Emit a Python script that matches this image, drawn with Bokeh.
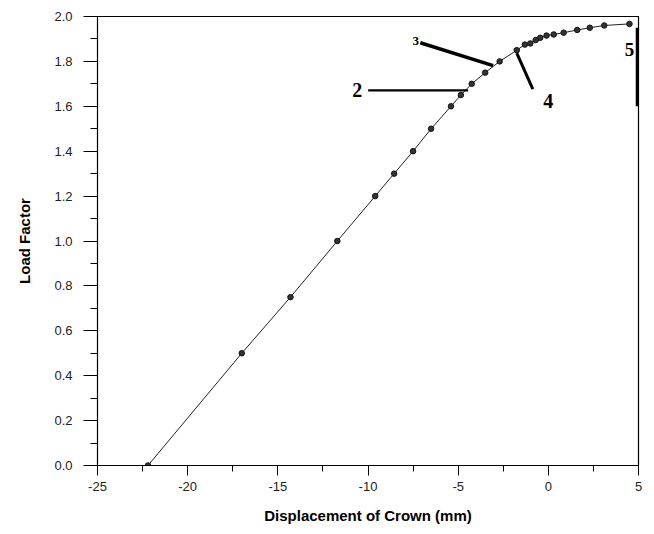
from bokeh.plotting import figure
from bokeh.models import FixedTicker, PrintfTickFormatter, ColumnDataSource
from bokeh.core.properties import value
from bokeh.embed import file_html
from bokeh.resources import INLINE

# Load-displacement data
displacement = [-22.2, -17.0, -14.3, -11.7, -9.6, -8.55, -7.5, -6.5, -5.4, -4.85,
                -4.25, -3.5, -2.7, -1.75, -1.3, -1.0, -0.7, -0.45, -0.1, 0.3,
                0.85, 1.6, 2.3, 3.1, 4.5]
load_factor = [0.0, 0.5, 0.75, 1.0, 1.2, 1.3, 1.4, 1.5, 1.6, 1.65,
               1.7, 1.75, 1.8, 1.85, 1.875, 1.88, 1.895, 1.905, 1.915, 1.92,
               1.928, 1.94, 1.95, 1.96, 1.967]

x_ticks = [-25, -20, -15, -10, -5, 0, 5]
x_minor = [-22.5, -17.5, -12.5, -7.5, -2.5, 2.5]
y_ticks = [0.0, 0.2, 0.4, 0.6, 0.8, 1.0, 1.2, 1.4, 1.6, 1.8, 2.0]
y_minor = [0.1, 0.3, 0.5, 0.7, 0.9, 1.1, 1.3, 1.5, 1.7, 1.9]

# Stage labels and their leader lines
stage_labels = ["2", "3", "4", "5"]
stage_label_x = [-10.6, -7.35, 0.0, 4.5]
stage_label_y = [1.672, 1.893, 1.622, 1.855]
stage_label_size = ["20px", "13px", "20px", "19px"]
leader_x0 = [-9.99, -7.1, -1.75, 4.93]
leader_y0 = [1.671, 1.883, 1.837, 1.95]
leader_x1 = [-4.45, -3.06, -0.86, 4.93]
leader_y1 = [1.671, 1.781, 1.677, 1.6]
leader_w = [2.2, 3.5, 3.0, 3.0]

p = figure(width=646, height=526, x_range=(-25, 5), y_range=(0, 2.0),
           output_backend="svg", toolbar_location=None,
           min_border_left=97, min_border_right=8, min_border_top=16,
           min_border_bottom=59)
p.grid.visible = False
p.outline_line_color = "black"
p.outline_line_width = 1.2

p.line(displacement, load_factor, line_color="#222222", line_width=1)
p.scatter(displacement, load_factor, marker="circle", size=5.5,
          fill_color="#333333", line_color="#111111", line_width=1)

src = ColumnDataSource(dict(x0=leader_x0, y0=leader_y0, x1=leader_x1,
                            y1=leader_y1, w=leader_w))
p.segment(x0="x0", y0="y0", x1="x1", y1="y1", line_width="w",
          line_color="black", source=src)

for t, tx, ty, ts in zip(stage_labels, stage_label_x, stage_label_y, stage_label_size):
    p.text([tx], [ty], text=[t], text_font=value("Liberation Serif"),
           text_font_style="bold", text_font_size=ts,
           text_align="center", text_baseline="middle", text_color="black")

xa = p.xaxis[0]
xa.ticker = FixedTicker(ticks=x_ticks, minor_ticks=x_minor)
xa.formatter = PrintfTickFormatter(format="%d")
xa.axis_label = "Displacement of Crown (mm)"
xa.major_tick_out = 10
xa.major_tick_in = 0
xa.minor_tick_out = 6
xa.minor_tick_in = 0
xa.major_label_standoff = 6
xa.axis_label_standoff = 13

ya = p.yaxis[0]
ya.ticker = FixedTicker(ticks=y_ticks, minor_ticks=y_minor)
ya.formatter = PrintfTickFormatter(format="%.1f")
ya.axis_label = "Load Factor"
ya.major_tick_out = 14
ya.major_tick_in = 0
ya.minor_tick_out = 7
ya.minor_tick_in = 0
ya.major_label_standoff = 11
ya.axis_label_standoff = 18

for ax in (xa, ya):
    ax.axis_line_color = "black"
    ax.major_tick_line_color = "black"
    ax.minor_tick_line_color = "black"
    ax.major_label_text_font = "Liberation Sans"
    ax.major_label_text_font_size = "13px"
    ax.major_label_text_color = "#222222"
    ax.axis_label_text_font = "Liberation Sans"
    ax.axis_label_text_font_size = "15px"
    ax.axis_label_text_font_style = "bold"
    ax.axis_label_text_color = "black"

open("out.html", "w").write(file_html(p, INLINE))
